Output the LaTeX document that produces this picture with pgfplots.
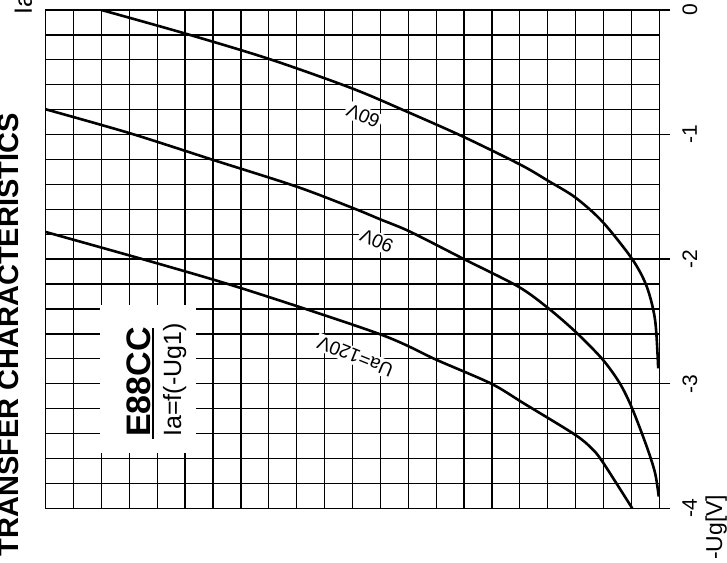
\documentclass[border=0pt]{standalone}
\usepackage{fontspec}
\setmainfont{Liberation Sans}
\usepackage{pgfplots}
\pgfplotsset{compat=1.18}
\newcommand{\tl}[1]{\fontsize{21}{24}\selectfont #1}
\begin{document}
\begin{tikzpicture}
\useasboundingbox (0pt,0pt) rectangle (727pt,562pt);
\begin{axis}[
  at={(45.7pt,53.7pt)}, anchor=south west,
  scale only axis, width=613.6pt, height=498.3pt,
  x dir=reverse, xmin=0, xmax=22, ymin=-4, ymax=0,
  xtick={0,...,22}, xticklabels={}, xtick style={draw=none},
  ytick={-4,-3,-2,-1,0}, yticklabels={\tl{-4},\tl{-3},\tl{-2},\tl{-1},\tl{0}},
  minor ytick={-3.8,-3.6,-3.4,-3.2,-2.8,-2.6,-2.4,-2.2,-1.8,-1.6,-1.4,-1.2,-0.8,-0.6,-0.4,-0.2},
  ytick pos=right, tick align=outside, major tick length=11pt, minor tick length=0pt,
  ytick style={black, line width=1.3pt},
  grid=both,
  major grid style={black, line width=1.3pt},
  minor grid style={black, line width=1.3pt},
  axis line style={black, line width=1.3pt},
  yticklabel style={rotate=90, anchor=north, inner sep=0pt, font=\fontsize{21}{24}\selectfont},
  yticklabel shift=12pt,
]
\addplot[black, line width=2.6pt, smooth, tension=0.5] coordinates {
(20.0,0) (17.03,-0.187) (13.99,-0.393) (11.03,-0.628) (9.05,-0.816) (7.03,-1.017) (4.96,-1.244) (3.98,-1.372) (3.01,-1.505) (2.04,-1.699) (0.97,-2.0) (0.45,-2.22) (0.15,-2.49) (0.04,-2.876)};
\addplot[black, line width=2.6pt, smooth, tension=0.5] coordinates {
(22,-0.797) (18.97,-0.99) (15.99,-1.204) (13.0,-1.418) (10.97,-1.591) (10.01,-1.68) (8.94,-1.779) (7.0,-2.0) (5.05,-2.221) (3.98,-2.394) (3.01,-2.582) (2.04,-2.803) (1.41,-2.999) (0.97,-3.2) (0.45,-3.505) (0.15,-3.718) (0.02,-3.906)};
\addplot[black, line width=2.6pt, smooth, tension=0.5] coordinates {
(22,-1.782) (18.01,-2.033) (14.79,-2.247) (10.01,-2.603) (7.98,-2.809) (6.03,-2.999) (4.87,-3.156) (3.01,-3.411) (2.37,-3.531) (2.04,-3.625) (1.53,-3.802) (0.97,-4.0)};
\node[rotate=156, fill=white, inner sep=2pt, font=\fontsize{19}{21}\selectfont] at (axis cs:10.61,-0.85) {60V};
\node[rotate=156, fill=white, inner sep=2pt, font=\fontsize{19}{21}\selectfont] at (axis cs:10.13,-1.854) {90V};
\node[rotate=158, fill=white, inner sep=2pt, font=\fontsize{19}{21}\selectfont] at (axis cs:10.9,-2.78) {Ua=120V};
\fill[white] (axis cs:20.05,-2.37) rectangle (axis cs:16.6,-3.56);
\node[rotate=90, anchor=base west, inner sep=0pt, font=\bfseries\fontsize{34}{36}\selectfont] at (axis cs:18.25,-3.427) {E88CC};
\draw[line width=2pt] (axis cs:18.16,-3.44) -- (axis cs:18.16,-2.55);
\node[rotate=90, anchor=base west, inner sep=0pt, font=\fontsize{25}{28}\selectfont] at (axis cs:17.14,-3.427) {Ia=f(-Ug1)};
\end{axis}
\node[rotate=90, anchor=base, inner sep=0pt, font=\bfseries\fontsize{29}{31}\selectfont] at (18pt,227pt) {TRANSFER CHARACTERISTICS};
\node[rotate=90, anchor=base west, inner sep=0pt, font=\fontsize{25}{28}\selectfont] at (32pt,547pt) {Ia};
\node[rotate=90, anchor=base west, inner sep=0pt, font=\fontsize{23}{25}\selectfont] at (722pt,2pt) {-Ug[V]};
\end{tikzpicture}
\end{document}
